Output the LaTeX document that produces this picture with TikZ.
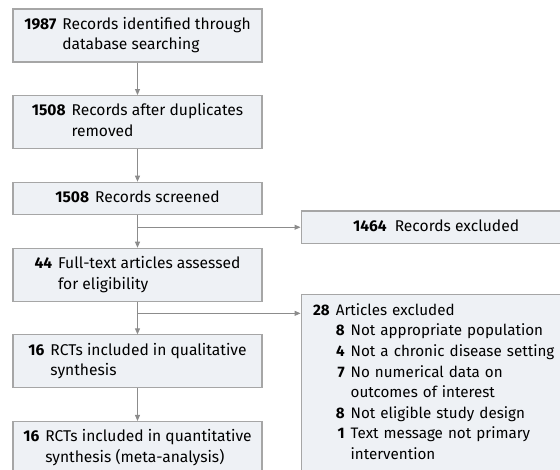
\documentclass[tikz,border=0pt]{standalone}
\usepackage{xcolor}
\usepackage{fontspec}
\setmainfont{Fira Sans}
\usetikzlibrary{positioning,arrows.meta}
\definecolor{boxfill}{RGB}{238,241,245}
\definecolor{boxline}{RGB}{166,166,166}
\definecolor{arrowline}{RGB}{140,140,140}

\begin{document}
\begin{tikzpicture}[
			x=1pt, y=-1pt,
			node distance=32.5pt,
			box/.style={draw=boxline, line width=1.1pt, fill=boxfill, minimum width=249pt, inner xsep=4pt, inner ysep=6pt, font=\fontsize{15.6pt}{20.5pt}\selectfont},
			arrow/.style={-{Triangle[length=6pt,width=5pt]}, draw=arrowline, line width=0.9pt}
		]
		\clip (0,0) rectangle (560,470);

		\node[box] (identified) at (137.5,35.5) {\begin{tabular}{@{}r@{\hspace{6pt}}l@{}}\textbf{1987} & Records identified through\\ & database searching\end{tabular}};
		\node[box, below=of identified] (duplicates) {\begin{tabular}{@{}r@{\hspace{6pt}}l@{}}\textbf{1508} & Records after duplicates\\ & removed\end{tabular}};
		\node[box, below=of duplicates] (screened) {\begin{tabular}{@{}r@{\hspace{6pt}}l@{}}\textbf{1508} & Records screened\end{tabular}};
		\node[box, below=of screened] (fulltext) {\begin{tabular}{@{}r@{\hspace{6pt}}l@{}}\textbf{44} & Full-text articles assessed\\ & for eligibility\end{tabular}};
		\node[box, below=of fulltext] (qualitative) {\begin{tabular}{@{}r@{\hspace{6pt}}l@{}}\textbf{16} & RCTs included in qualitative\\ & synthesis\end{tabular}};
		\node[box, below=of qualitative] (quantitative) {\begin{tabular}{@{}r@{\hspace{6pt}}l@{}}\textbf{16} & RCTs included in quantitative\\ & synthesis (meta-analysis)\end{tabular}};

		\node[box, anchor=west, minimum width=270pt] (recexcluded) at ([xshift=38pt, yshift=-12pt]screened.south east) {\begin{tabular}{@{}r@{\hspace{8pt}}l@{}}\textbf{1464} & Records excluded\end{tabular}};
		\node[box, anchor=north west, text width=246pt, inner xsep=12pt, inner ysep=6.5pt, font=\fontsize{15.2pt}{20.6pt}\selectfont] (artexcluded) at ([xshift=38pt, yshift=8pt]fulltext.south east) {\begin{tabular}{@{}r@{\hspace{6pt}}r@{\hspace{6pt}}l@{}}
				\textbf{28} & \multicolumn{2}{@{}l@{}}{Articles excluded}\\
				& \textbf{8} & Not appropriate population\\
				& \textbf{4} & Not a chronic disease setting\\
				& \textbf{7} & No numerical data on\\
				& & outcomes of interest\\
				& \textbf{8} & Not eligible study design\\
				& \textbf{1} & Text message not primary\\
				& & intervention\\[30pt]
			\end{tabular}};

		\coordinate (split1) at (screened.south |- recexcluded.west);
		\coordinate (split2) at ([yshift=-11.5pt]fulltext.south);

		\draw[arrow] (identified) -- (duplicates);
		\draw[arrow] (duplicates) -- (screened);
		\draw[arrow] (screened) -- (fulltext);
		\draw[arrow] (fulltext) -- (qualitative);
		\draw[arrow] (qualitative) -- (quantitative);
		\draw[arrow] (split1) -- (recexcluded.west);
		\draw[arrow] (split2) -- (split2 -| artexcluded.west);

	\end{tikzpicture}
\end{document}
